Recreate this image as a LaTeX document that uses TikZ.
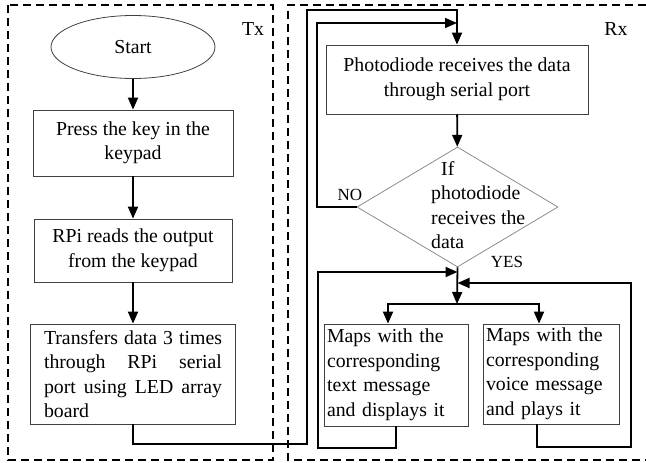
\documentclass[tikz,border=0pt]{standalone}
\usepackage{fontspec}
\setmainfont{Liberation Serif}
\usetikzlibrary{shapes.geometric,arrows.meta}
\begin{document}
\begin{tikzpicture}[x=1pt,y=-1pt,
  font=\fontsize{19.8}{24.5}\selectfont,
  box/.style={draw=black!75, line width=0.8pt, rectangle, inner sep=0pt, align=center},
  conn/.style={line width=1.8pt, -{Triangle[length=12pt,width=10pt]}},
  region/.style={line width=1.8pt, dash pattern=on 8pt off 5pt},
  small/.style={font=\fontsize{17}{20}\selectfont, inner sep=0pt},
]
\useasboundingbox (0,0) rectangle (646,463);

% regions
\draw[region] (8,5) rectangle (273,460);
\draw[region] (646,5) -- (288,5) -- (288,460) -- (646,460);
\node[inner sep=0pt] (tx) at (253,29) {Tx};
\node[inner sep=0pt] (rx) at (616,29) {Rx};

% Tx column
\node[ellipse, draw=black!75, line width=0.8pt, minimum width=164pt, minimum height=63pt, inner sep=0pt] (start) at (133,47) {Start};
\node[box, minimum width=200pt, minimum height=66pt] (b1) at (133,143) {Press the key in the\\keypad};
\node[box, minimum width=198pt, minimum height=63pt] (b2) at (133,250.5) {RPi reads the output\\from the keypad};
\node[box, minimum width=205pt, minimum height=100pt, text width=178pt, align=left] (b3) at (133,374)
  {\makebox[178pt][l]{Transfers\hfill data\hfill 3\hfill times}\\\makebox[178pt][l]{through\hfill RPi\hfill serial}\\\makebox[178pt][l]{port\hfill using\hfill LED\hfill array}\\board};

\draw[conn] (start) -- (b1);
\draw[conn] (b1) -- (b2);
\draw[conn] (b2) -- (b3);

% Rx column
\node[box, minimum width=262pt, minimum height=69pt] (r1) at (457,79.5) {Photodiode receives the data\\through serial port};
\node[diamond, draw=gray, line width=0.7pt, minimum width=201pt, minimum height=120pt, inner sep=0pt] (dec) at (457.5,207) {};
\node[align=left, anchor=west, inner sep=0pt] (dtext) at (431,205) {\hspace{10pt}If\\photodiode\\receives the\\data};
\node[small] (no) at (350,195) {NO};
\node[small] (yes) at (507,262) {YES};

\node[box, minimum width=144pt, minimum height=102pt, text width=138pt, align=left] (ml) at (396,375)
  {Maps with the\\corresponding\\text message\\and displays it};
\node[box, minimum width=136pt, minimum height=100pt, text width=130pt, align=left] (mr) at (551,374)
  {Maps with the\\corresponding\\voice message\\and plays it};

\coordinate (split) at (457,304);

% connectors
\draw[conn] (b3.south) |- (307,444) |- (r1.north |- 0,10) -- (r1.north);
\draw[conn] (dec.west) -- (317,207) |- (r1.north |- 0,23);
\draw[conn] (r1) -- (dec);
\draw[conn] (dec.south) -- (split);
\draw[conn] (split) -| ([xshift=-8pt]ml.north);
\draw[conn] (split) -| ([xshift=-12pt]mr.north);
\draw[conn] (ml.south) |- (318,448) |- (dec.south |- 0,272);
\draw[conn] ([xshift=-14pt]mr.south) |- (631,447) |- (dec.south |- 0,283);
\end{tikzpicture}
\end{document}
